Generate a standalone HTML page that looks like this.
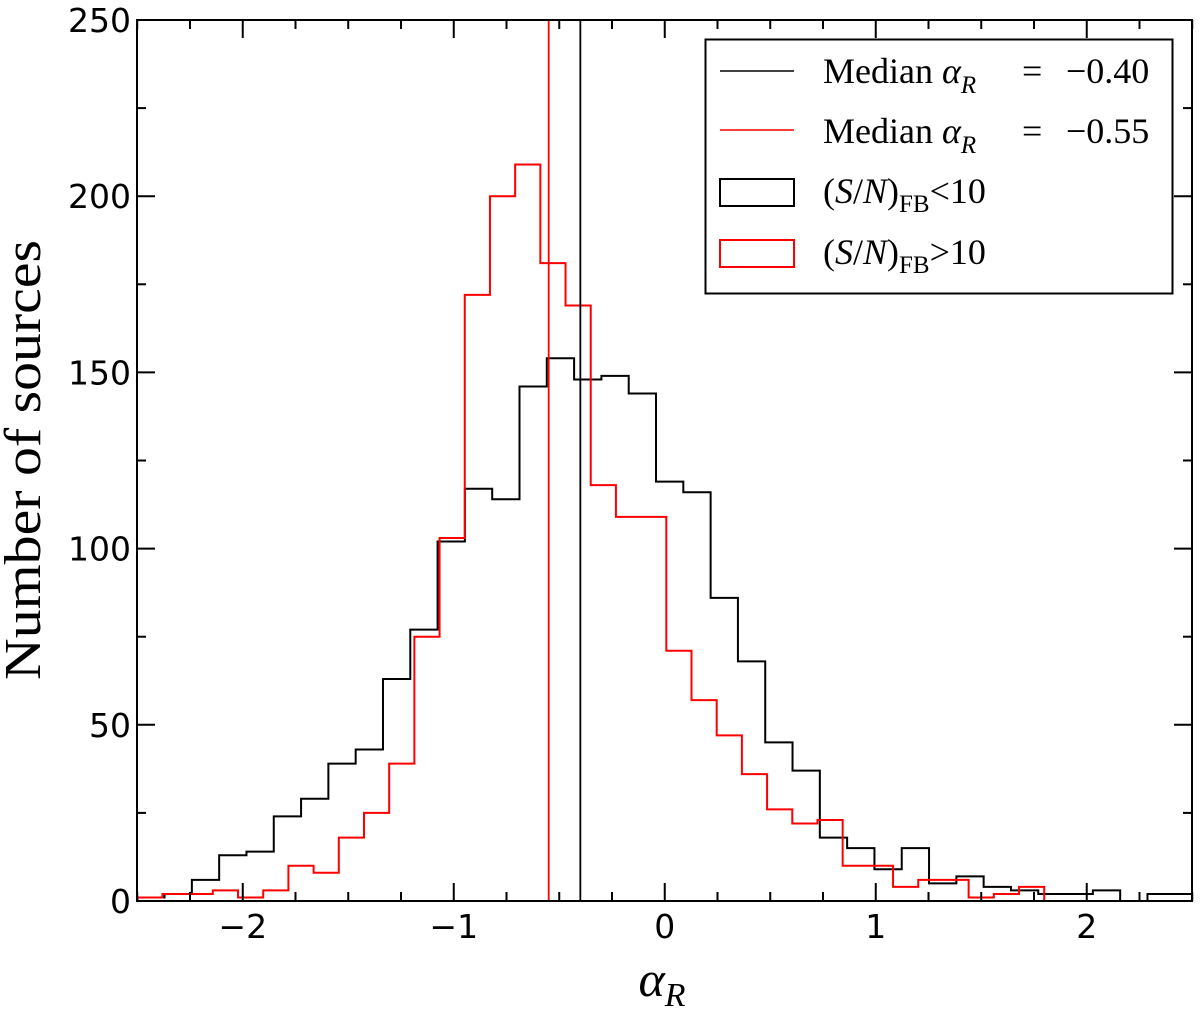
<!DOCTYPE html>
<html><head><meta charset="utf-8"><style>
html,body{margin:0;padding:0;background:#fff;}
svg{display:block;}
.tk{font-family:"DejaVu Sans","Liberation Sans",sans-serif;font-size:33px;fill:#000;}
.serif{font-family:"Liberation Serif","DejaVu Serif",serif;fill:#000;}
</style></head><body>
<svg id="chart" width="1200" height="1011" viewBox="0 0 1200 1011" xmlns="http://www.w3.org/2000/svg">
<defs><clipPath id="plotclip"><rect x="137" y="20" width="1055" height="881"/></clipPath></defs>
<g id="plot" clip-path="url(#plotclip)"></g>
<g id="axes"></g>
<text class="serif" x="40" y="460" font-size="52" text-anchor="middle" textLength="440" lengthAdjust="spacingAndGlyphs" transform="rotate(-90 40 460)">Number of sources</text>
<text class="serif" x="662" y="996" font-size="50" font-style="italic" text-anchor="middle">α<tspan font-size="34" dy="10">R</tspan></text>
<g>
<rect x="705.5" y="39.5" width="467" height="254" fill="#fff" stroke="#000" stroke-width="2"/>
<g>
<line x1="720" y1="71" x2="794" y2="71" stroke="#000" stroke-width="1.5"/>
<text class="serif" x="823" y="83" font-size="36">Median <tspan font-style="italic">α</tspan><tspan font-style="italic" font-size="25" dy="10">R</tspan><tspan dy="-10" x="1022">=</tspan><tspan x="1066">−0.40</tspan></text></g>
<g>
<line x1="720" y1="130" x2="794" y2="130" stroke="#f00" stroke-width="1.5"/>
<text class="serif" x="823" y="143" font-size="36">Median <tspan font-style="italic">α</tspan><tspan font-style="italic" font-size="25" dy="10">R</tspan><tspan dy="-10" x="1022">=</tspan><tspan x="1066">−0.55</tspan></text></g>
<g>
<rect x="720" y="179" width="74" height="27" fill="none" stroke="#000" stroke-width="2"/>
<text class="serif" x="823" y="203" font-size="36">(<tspan font-style="italic">S</tspan>/<tspan font-style="italic">N</tspan>)<tspan font-size="25" dy="9">FB</tspan><tspan dy="-9">&lt;10</tspan></text></g>
<g>
<rect x="720" y="240" width="74" height="27" fill="none" stroke="#f00" stroke-width="2"/>
<text class="serif" x="823" y="264" font-size="36">(<tspan font-style="italic">S</tspan>/<tspan font-style="italic">N</tspan>)<tspan font-size="25" dy="9">FB</tspan><tspan dy="-9">&gt;10</tspan></text></g>
</g>
</svg>
<script>
const blackStart = -2.5;
const blackWidth = 0.1294;
const blackCounts = [1,2,6,13,14,24,29,39,43,63,77,102,117,114,146,154,148,149,144,119,116,86,68,45,37,18,15,9,15,5,7,4,3,2,2,3,0,2,2];
const redStart = -2.5;
const redWidth = 0.1194;
const redCounts = [1,2,2,3,1,3,10,8,18,25,39,75,103,172,200,209,181,169,118,109,109,71,57,47,36,26,22,23,10,10,4,6,6,1,2,4,0,0,0,0,0,0];
const medians = [-0.40, -0.55];
const xTicks = [-2,-1,0,1,2];
const yTicks = [0,50,100,150,200,250];

const NS='http://www.w3.org/2000/svg';
const L=137,R=1192,T=20,B=901;
const X=v=>664.75+211*v;
const Y=v=>B-(v/250)*(B-T);
function mk(tag,attrs,parent){const e=document.createElementNS(NS,tag);for(const k in attrs)e.setAttribute(k,attrs[k]);parent.appendChild(e);return e;}
const plot=document.getElementById('plot'), axes=document.getElementById('axes');

function stepPath(start,w,counts){
  let d='M'+X(start)+','+Y(0);
  counts.forEach((c,i)=>{const x0=X(start+i*w),x1=X(start+(i+1)*w);d+=' L'+x0+','+Y(c)+' L'+x1+','+Y(c);});
  d+=' L'+X(start+counts.length*w)+','+Y(0);
  return d;
}
const hb=mk('path',{d:stepPath(blackStart,blackWidth,blackCounts),fill:'none',stroke:'#000','stroke-width':2},plot);


const hr=mk('path',{d:stepPath(redStart,redWidth,redCounts),fill:'none',stroke:'#f00','stroke-width':2},plot);


const mcol=['#000','#f00'];
medians.forEach((m,i)=>{
  const ln=mk('line',{x1:X(m),x2:X(m),y1:T,y2:B,stroke:mcol[i],'stroke-width':1.8},plot);
  
  
});
const fr=mk('rect',{x:L,y:T,width:R-L,height:B-T,fill:'none',stroke:'#000','stroke-width':2},axes);


for(let v=-2.5;v<=2.5001;v+=0.25){
  const major=Math.abs(v-Math.round(v))<1e-6;const len=major?18:9;const x=X(v);
  mk('line',{x1:x,x2:x,y1:B,y2:B-len,stroke:'#000','stroke-width':2},axes);
  mk('line',{x1:x,x2:x,y1:T,y2:T+len,stroke:'#000','stroke-width':2},axes);
}
xTicks.forEach(v=>{
  const t=mk('text',{x:X(v),y:B+37,'text-anchor':'middle',class:'tk'},axes);
  t.textContent=(v<0?'−':'')+Math.abs(v);
  
  
});
for(let v=0;v<=250;v+=25){
  const major=v%50===0;const len=major?18:9;const y=Y(v);
  mk('line',{x1:L,x2:L+len,y1:y,y2:y,stroke:'#000','stroke-width':2},axes);
  mk('line',{x1:R,x2:R-len,y1:y,y2:y,stroke:'#000','stroke-width':2},axes);
}
yTicks.forEach(v=>{
  const t=mk('text',{x:L-6,y:Y(v)+12,'text-anchor':'end',class:'tk'},axes);
  t.textContent=String(v);
  
  
});
</script>
</body></html>
